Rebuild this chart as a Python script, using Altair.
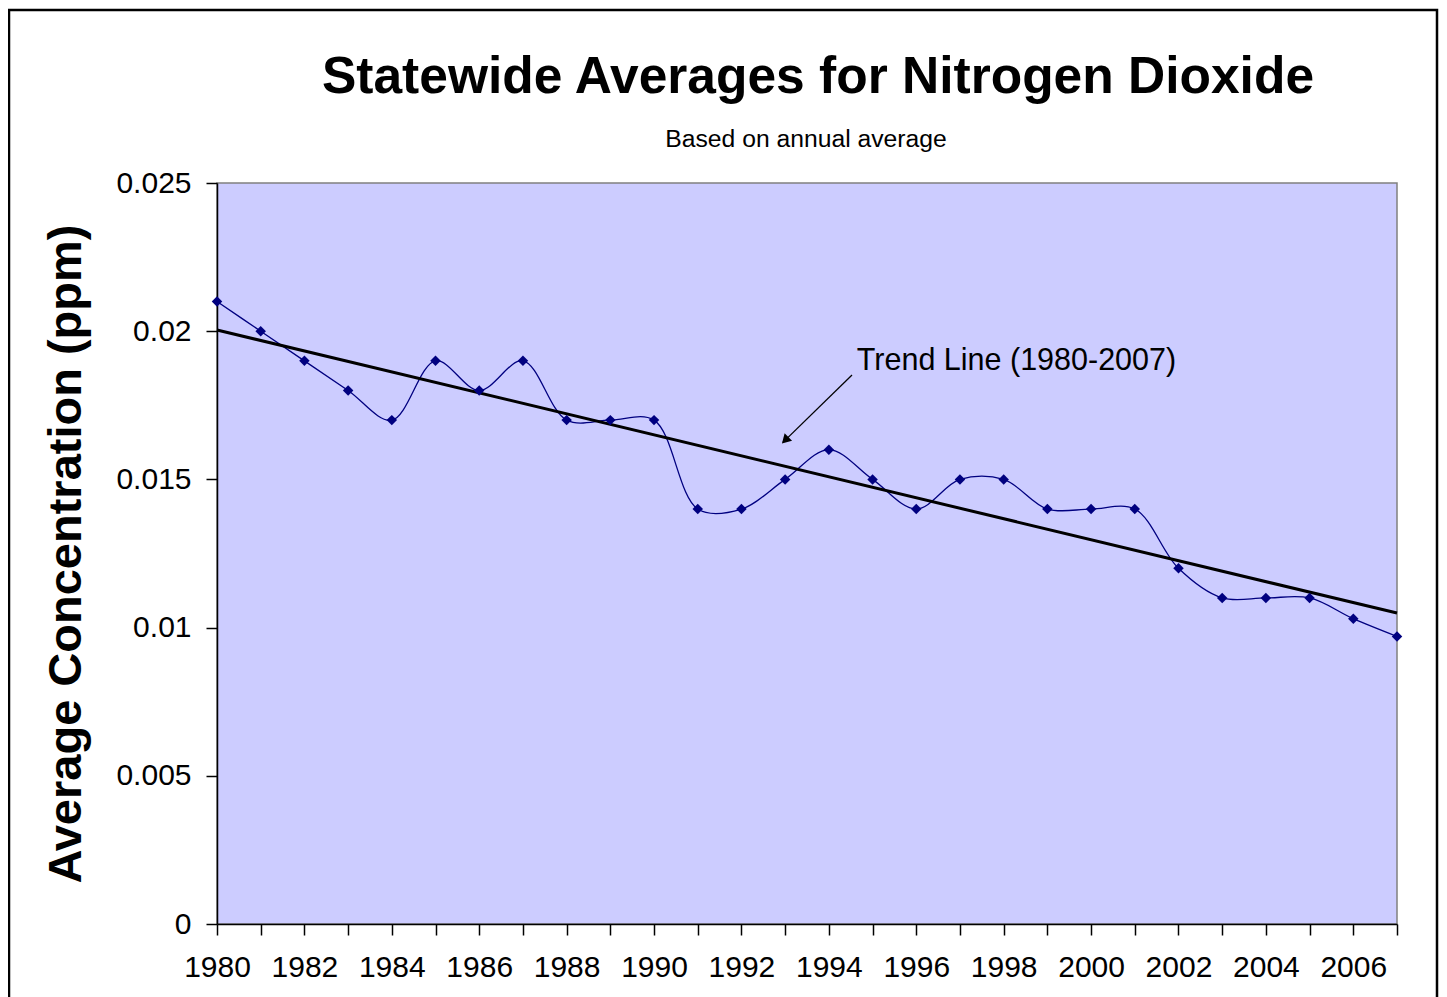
import altair as alt
import pandas as pd

years = list(range(1980, 2008))
no2 = [0.021, 0.020, 0.019, 0.018, 0.017, 0.019, 0.018, 0.019, 0.017, 0.017,
       0.017, 0.014, 0.014, 0.015, 0.016, 0.015, 0.014, 0.015, 0.015, 0.014,
       0.014, 0.014, 0.012, 0.011, 0.011, 0.011, 0.0103, 0.0097]

trend_years = [1980, 2007]
trend_values = [0.02004, 0.01049]

label_text = ["Trend Line (1980-2007)"]
label_year = [1994.64]
label_value = [0.0187]

arrow_years = [1994.53, 1992.95]
arrow_values = [0.01852, 0.01625]
head_year = [1993.0]
head_value = [0.01632]

y_ticks = [0, 0.005, 0.01, 0.015, 0.02, 0.025]

title_text = "Statewide Averages for Nitrogen Dioxide"
subtitle_text = "Based on annual average"

FONT = "Liberation Sans"

df = pd.DataFrame({"year": years, "value": no2})
trend_df = pd.DataFrame({"year": trend_years, "value": trend_values})
label_df = pd.DataFrame({"year": label_year, "value": label_value, "text": label_text})
arrow_df = pd.DataFrame({"year": arrow_years, "value": arrow_values})
head_df = pd.DataFrame({"year": head_year, "value": head_value})
one = pd.DataFrame({"a": [0]})

x_scale = alt.Scale(domain=[1980, 2007], nice=False, zero=False)
y_scale = alt.Scale(domain=[0, 0.025], nice=False)

x_axis = alt.Axis(
    values=years, format="d",
    labelExpr="datum.value % 2 == 0 ? datum.label : ''",
    title=None, grid=False, tickSize=11, labelPadding=17,
    labelFontSize=30, labelFont=FONT, labelColor="black",
    domainColor="black", tickColor="black", domainWidth=1.5, tickWidth=1.5,
    labelOverlap=False, labelFlush=False,
)
y_axis = alt.Axis(
    values=y_ticks, format="~g",
    title="Average Concentration (ppm)", grid=False, tickSize=11, labelPadding=15,
    labelFontSize=30, labelFont=FONT, labelColor="black",
    titleFontSize=47, titleFont=FONT, titleFontWeight="bold", titleColor="black",
    titlePadding=25,
    domainColor="black", tickColor="black", domainWidth=1.5, tickWidth=1.5,
)

X = alt.X("year:Q", scale=x_scale, axis=x_axis)
Y = alt.Y("value:Q", scale=y_scale, axis=y_axis)

border = alt.Chart(one).mark_rect(
    fill=None, stroke="black", strokeWidth=2.5
).encode(
    x=alt.value(-208), x2=alt.value(1220), y=alt.value(-173), y2=alt.value(830)
)

title = alt.Chart(one).mark_text(
    text=title_text, align="center", baseline="alphabetic",
    fontSize=51.5, font=FONT, fontWeight="bold", color="black"
).encode(x=alt.value(601), y=alt.value(-90))

subtitle = alt.Chart(one).mark_text(
    text=subtitle_text, align="center", baseline="alphabetic",
    fontSize=24.7, font=FONT, color="black"
).encode(x=alt.value(589), y=alt.value(-36))

line = alt.Chart(df).mark_line(
    color="#000080", strokeWidth=1.3, interpolate="catmull-rom"
).encode(x=X, y=Y)

points = alt.Chart(df).mark_point(
    shape="diamond", filled=True, color="#000080", size=110, opacity=1
).encode(x="year:Q", y="value:Q")

trend = alt.Chart(trend_df).mark_line(color="black", strokeWidth=3).encode(
    x="year:Q", y="value:Q"
)

arrow = alt.Chart(arrow_df).mark_line(color="black", strokeWidth=1.3).encode(
    x="year:Q", y="value:Q"
)
head = alt.Chart(head_df).mark_point(
    shape="triangle-up", filled=True, color="black", size=110, angle=225, opacity=1
).encode(x="year:Q", y="value:Q")

label = alt.Chart(label_df).mark_text(
    align="left", baseline="alphabetic", fontSize=30.5, font=FONT, color="black"
).encode(x="year:Q", y="value:Q", text="text:N")

chart = alt.layer(border, title, subtitle, line, trend, points, arrow, head, label).properties(
    width=1180, height=741,
    padding={"left": 209, "top": 175, "right": 42, "bottom": 73},
    autosize=alt.AutoSizeParams(type="none"),
).configure(
    background="white"
).configure_view(
    fill="#CCCCFF", stroke="#808080", strokeWidth=1.5
)

chart.save("out.html", embed_options={"renderer": "svg", "actions": False})
